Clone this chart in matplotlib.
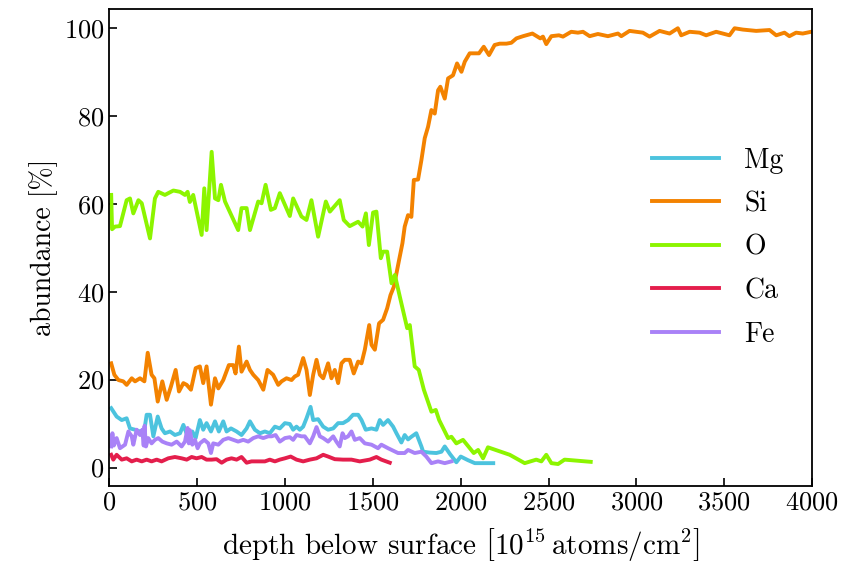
import numpy as np
import matplotlib
matplotlib.use('Agg')
import matplotlib.pyplot as plt

plt.rcParams['font.family'] = 'serif'
plt.rcParams['font.serif'] = ['cmr10', 'DejaVu Serif']
plt.rcParams['mathtext.fontset'] = 'cm'
plt.rcParams['axes.formatter.use_mathtext'] = True

# depth [1e15 atoms/cm^2] and abundance [%] per element
mg_depth = [10, 41, 70, 98, 117, 146, 174, 199, 212, 231, 250, 275, 297, 316, 345, 373, 402, 421,
            445, 472, 491, 515, 534, 553, 578, 601, 623, 648, 667, 692, 724, 752, 781, 800, 828,
            857, 885, 913, 942, 970, 999, 1027, 1046, 1065, 1084, 1103, 1122, 1145, 1160, 1188,
            1217, 1245, 1274, 1302, 1330, 1359, 1387, 1416, 1435, 1459, 1492, 1520, 1539, 1558,
            1586, 1615, 1634, 1662, 1681, 1700, 1719, 1747, 1776, 1786, 1823, 1861, 1890, 1909,
            1940, 1975, 2000, 2040, 2080, 2185]
mg_val = [13.5, 11.6, 10.8, 11.2, 8.9, 8.6, 8.2, 8.6, 12.0, 12.0, 7.1, 11.6, 8.9, 7.8, 8.2, 7.4, 7.8,
          9.7, 7.1, 8.2, 6.7, 10.8, 8.6, 10.1, 8.2, 10.5, 8.2, 10.5, 8.2, 8.9, 8.2, 7.4, 8.9, 10.5,
          8.6, 7.8, 8.2, 7.8, 9.3, 8.9, 10.1, 9.9, 8.6, 9.3, 8.6, 9.3, 11.2, 13.8, 10.8, 11.0, 9.3,
          8.6, 8.9, 10.1, 10.1, 10.8, 12.0, 12.0, 10.8, 8.6, 8.9, 8.6, 10.8, 9.7, 10.8, 9.3, 7.8,
          5.7, 7.4, 6.4, 7.0, 7.8, 4.8, 3.6, 3.4, 3.3, 3.6, 4.8, 3.0, 1.2, 2.5, 1.7, 1.0, 1.0]

si_depth = [10, 28, 51, 79, 98, 127, 146, 174, 199, 218, 240, 256, 275, 301, 326, 350, 377, 396,
            421, 440, 464, 491, 515, 534, 553, 578, 601, 620, 648, 680, 705, 718, 737, 752, 781,
            800, 819, 847, 876, 900, 932, 961, 980, 1008, 1037, 1055, 1074, 1103, 1122, 1141, 1160,
            1179, 1198, 1217, 1245, 1264, 1283, 1302, 1321, 1340, 1368, 1391, 1416, 1435, 1454,
            1479, 1492, 1511, 1535, 1558, 1581, 1600, 1619, 1634, 1649, 1668, 1681, 1700, 1719,
            1733, 1757, 1776, 1795, 1814, 1833, 1852, 1871, 1884, 1909, 1928, 1956, 1979, 2004,
            2023, 2051, 2079, 2104, 2131, 2161, 2193, 2222, 2260, 2288, 2317, 2355, 2408, 2453,
            2468, 2487, 2516, 2559, 2582, 2629, 2667, 2696, 2734, 2781, 2838, 2895, 2914, 2961,
            3037, 3075, 3132, 3189, 3236, 3255, 3303, 3360, 3397, 3454, 3530, 3559, 3606, 3682,
            3758, 3796, 3843, 3871, 3909, 3947, 3995]
si_val = [23.7, 21.1, 19.9, 19.6, 18.8, 20.3, 19.6, 20.3, 19.6, 26.1, 21.1, 20.3, 15.0, 19.6, 15.4,
          18.4, 22.2, 17.3, 19.2, 18.8, 17.7, 22.6, 23.0, 19.2, 23.0, 14.3, 20.3, 18.0, 19.9, 23.3,
          23.3, 21.4, 27.5, 21.8, 24.1, 22.2, 21.1, 19.9, 17.7, 22.2, 21.1, 18.8, 19.6, 20.3, 19.9,
          20.7, 21.1, 24.9, 22.2, 16.5, 21.1, 24.5, 21.1, 20.3, 23.7, 20.3, 22.2, 19.2, 23.7, 24.5,
          24.5, 21.4, 24.1, 23.7, 26.8, 32.4, 27.9, 26.8, 32.8, 33.6, 36.2, 39.2, 41.1, 44.2, 47.2,
          51.0, 54.8, 57.4, 57.0, 65.4, 65.5, 69.9, 74.9, 77.5, 81.3, 80.5, 85.8, 86.6, 83.9, 88.5,
          89.2, 91.9, 90.0, 92.3, 94.2, 94.2, 94.2, 95.7, 93.8, 96.1, 96.4, 96.4, 96.6, 97.6, 98.1,
          98.7, 97.6, 98.0, 96.3, 98.1, 98.3, 98.0, 99.1, 98.9, 99.1, 98.1, 98.6, 98.1, 98.7, 98.1,
          99.3, 98.9, 98.0, 99.3, 98.7, 99.9, 98.3, 99.1, 98.9, 98.3, 99.1, 98.3, 99.9, 99.6, 99.3,
          99.5, 98.3, 98.9, 98.1, 98.9, 98.7, 99.1]

o_depth = [10, 15, 32, 60, 98, 117, 136, 165, 184, 231, 259, 278, 316, 364, 402, 430, 445, 458,
           477, 525, 540, 553, 582, 601, 620, 635, 658, 733, 752, 781, 800, 847, 866, 889, 919,
           942, 970, 1027, 1046, 1093, 1122, 1150, 1188, 1232, 1255, 1311, 1334, 1368, 1416, 1441,
           1460, 1477, 1501, 1520, 1545, 1558, 1581, 1606, 1625, 1653, 1695, 1710, 1738, 1761,
           1790, 1833, 1858, 1877, 1928, 1947, 1975, 2013, 2074, 2099, 2127, 2155, 2279, 2364,
           2430, 2459, 2487, 2516, 2554, 2591, 2740]
o_val = [62.0, 54.2, 54.8, 54.9, 60.8, 61.2, 57.8, 60.8, 60.1, 52.1, 61.2, 62.7, 62.0, 63.0, 62.7,
         62.0, 62.7, 60.4, 62.0, 52.9, 63.5, 54.0, 71.8, 61.2, 60.8, 64.3, 60.5, 54.0, 59.0, 59.0,
         54.0, 60.5, 60.1, 64.3, 58.6, 59.0, 62.4, 57.2, 61.2, 57.1, 56.3, 60.8, 52.5, 60.5, 58.2,
         60.8, 56.3, 54.9, 55.9, 54.8, 57.8, 50.6, 58.0, 58.2, 47.6, 49.1, 49.1, 41.9, 43.8, 38.9,
         31.7, 32.4, 23.0, 22.2, 17.7, 12.7, 13.1, 10.8, 6.7, 7.0, 5.5, 6.3, 3.3, 4.0, 2.1, 4.6,
         2.9, 1.0, 1.8, 1.4, 2.9, 1.0, 0.8, 1.8, 1.3]

ca_depth = [10, 22, 41, 70, 98, 127, 155, 184, 212, 240, 269, 297, 335, 373, 411, 440, 468, 496,
            525, 553, 582, 610, 639, 667, 695, 724, 752, 781, 809, 847, 885, 913, 942, 970, 999,
            1032, 1065, 1103, 1141, 1179, 1217, 1245, 1283, 1330, 1378, 1425, 1482, 1520, 1548, 1596]
ca_val = [2.9, 1.8, 2.9, 1.8, 2.1, 1.4, 1.8, 1.4, 1.8, 1.4, 1.8, 1.4, 2.1, 2.4, 2.1, 1.8, 2.4, 2.1,
          2.4, 1.8, 1.8, 1.9, 1.1, 1.8, 2.1, 1.8, 2.4, 1.1, 1.4, 1.4, 1.4, 1.8, 1.4, 1.8, 2.1, 2.5,
          1.8, 1.4, 1.8, 2.1, 2.9, 2.5, 1.9, 1.8, 1.8, 1.4, 1.8, 2.4, 1.8, 1.1]

fe_depth = [10, 17, 25, 41, 60, 89, 108, 127, 136, 155, 174, 187, 195, 200, 208, 221, 240, 259,
            278, 301, 326, 354, 383, 411, 430, 445, 452, 458, 472, 487, 502, 515, 540, 563, 578,
            591, 620, 648, 677, 705, 733, 762, 790, 819, 847, 876, 904, 923, 946, 970, 999, 1027,
            1046, 1065, 1093, 1112, 1141, 1160, 1179, 1198, 1217, 1245, 1274, 1292, 1311, 1327,
            1340, 1359, 1378, 1397, 1425, 1454, 1492, 1529, 1548, 1586, 1643, 1681, 1700, 1738,
            1776, 1804, 1833, 1871, 1909, 1947]
fe_val = [4.8, 7.8, 5.0, 6.7, 4.4, 5.2, 8.2, 7.1, 5.2, 8.6, 7.4, 8.6, 5.0, 9.5, 4.8, 6.7, 5.5, 6.3,
          6.7, 5.9, 5.5, 5.2, 5.9, 4.8, 5.9, 9.0, 5.5, 8.5, 5.2, 6.3, 4.4, 5.5, 6.3, 5.5, 3.3, 5.5,
          5.2, 6.3, 6.7, 6.3, 5.9, 6.3, 5.9, 6.7, 7.1, 6.7, 7.1, 7.1, 7.4, 5.9, 6.7, 6.9, 6.3, 7.4,
          7.1, 7.1, 5.5, 7.1, 9.2, 7.1, 6.7, 5.9, 7.1, 5.9, 4.8, 7.8, 6.7, 7.1, 8.2, 6.3, 6.7, 5.5,
          5.2, 4.4, 5.2, 4.4, 3.3, 3.3, 4.0, 3.3, 3.6, 2.5, 1.0, 1.4, 1.0, 1.4]

series = [('Mg', mg_depth, mg_val, '#4cc3de'),
          ('Si', si_depth, si_val, '#f38200'),
          ('O', o_depth, o_val, '#8cf500'),
          ('Ca', ca_depth, ca_val, '#e41e4c'),
          ('Fe', fe_depth, fe_val, '#a982f7')]

fig = plt.figure(figsize=(8.45, 5.79), dpi=100)
ax = fig.add_axes([0.1295, 0.1606, 0.8315, 0.824])

for name, d, v, col in series:
    ax.plot(d, v, color=col, lw=2.8, label=name)

ax.set_xlim(0, 4000)
ax.set_ylim(-4.2, 104.3)
ax.set_xticks(np.arange(0, 4001, 500))
ax.set_yticks(np.arange(0, 101, 20))
ax.tick_params(direction='in', labelsize=19, length=6, width=1.2)
for sp in ax.spines.values():
    sp.set_linewidth(1.3)

ax.set_xlabel(r'depth below surface $\left[10^{15}\,\mathrm{atoms/cm}^{2}\right]$',
              fontsize=21, labelpad=8)
ax.set_ylabel('abundance [%]', fontsize=20)

ax.legend(loc='center right', bbox_to_anchor=(0.995, 0.5), frameon=False, fontsize=20,
          handlelength=2.4, handletextpad=0.9, labelspacing=0.62)

fig.savefig('out.png', dpi=100)
